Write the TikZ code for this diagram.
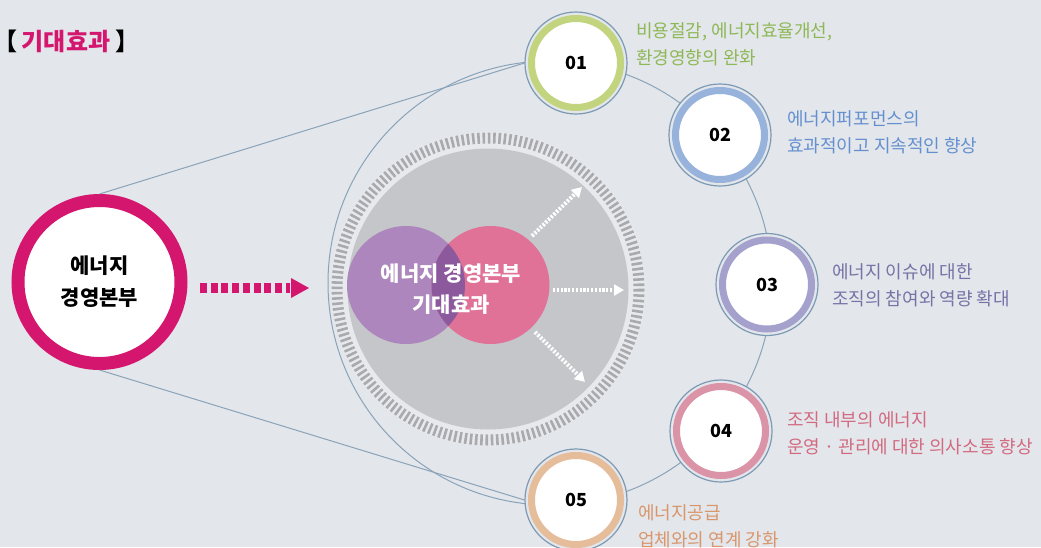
\documentclass[tikz,border=0pt]{standalone}
\usepackage{fontspec}
\setmainfont{Noto Sans CJK KR}
\usetikzlibrary{arrows.meta}
\definecolor{bg}{HTML}{E3E6EB}
\definecolor{arcline}{HTML}{8AA3B8}
\definecolor{outl}{HTML}{7C9AB3}
\definecolor{mag}{HTML}{D4166F}
\definecolor{gdisk}{HTML}{C5C6CA}
\definecolor{tick}{HTML}{A9AAAE}
\definecolor{lring}{HTML}{E8E9EC}
\definecolor{vpur}{HTML}{AC86BC}
\definecolor{vpink}{HTML}{E07197}
\definecolor{vover}{HTML}{8C5A9C}
\definecolor{rg}{HTML}{C3D47F}
\definecolor{rb}{HTML}{97B3DC}
\definecolor{rl}{HTML}{A4A2CD}
\definecolor{rp}{HTML}{DA93A7}
\definecolor{ro}{HTML}{E5BD9B}
\definecolor{tg}{HTML}{8EB856}
\definecolor{tb}{HTML}{6590CF}
\definecolor{tl}{HTML}{7474A6}
\definecolor{tp}{HTML}{D26A80}
\definecolor{to}{HTML}{D9966C}
\tikzset{
  outerc/.style={circle, draw=outl, line width=1.2pt, fill=bg, minimum size=102pt, inner sep=0pt},
  ringc/.style={circle, draw=#1, line width=7pt, fill=white, minimum size=89pt, inner sep=0pt,
     font=\fontsize{18}{20}\selectfont\bfseries},
  desc/.style={anchor=west, align=left, inner sep=0pt, text=#1, font=\fontsize{18}{27}\selectfont},
  conn/.style={draw=arcline, line width=1pt},
  warrow/.style={white, line width=4pt, dash pattern=on 2.2pt off 1.6pt, -{Triangle[length=10pt,width=11pt]}},
  titlef/.style={font=\fontsize{24}{26}\selectfont\bfseries, inner sep=0pt},
}
\begin{document}
\begin{tikzpicture}[x=1pt,y=-1pt]
\fill[bg] (0,0) rectangle (1041,547);
\useasboundingbox (0,0) rectangle (1041,547);

% big arc circle
\coordinate (A) at (550,283);
\draw[conn] (A) circle[radius=222];

% left main circle
\node[circle, draw=mag, line width=13pt, fill=white, minimum size=163pt, inner sep=0pt,
  align=center, font=\fontsize{21}{32}\selectfont\bfseries] (L) at (99.5,282) {에너지\\경영본부};

% numbered circles (outer outline)
\node[outerc] (c1o) at (576,63) {};
\node[outerc] (c2o) at (720,135) {};
\node[outerc] (c3o) at (767,284.5) {};
\node[outerc] (c4o) at (721,431) {};
\node[outerc] (c5o) at (576,500) {};

% straight connectors
\draw[conn] (L.north) -- (c1o.west);
\draw[conn] (L.south) -- (c5o.west);

% gray circle
\coordinate (G) at (488,289);
\fill[lring] (G) circle[radius=157];
\draw[tick, line width=11pt, dash pattern=on 2.6pt off 2.67pt] (G) circle[radius=151];
\fill[gdisk] (G) circle[radius=140.5];

% venn
\fill[vpur] (406,285) circle[radius=59];
\fill[vpink] (490.5,285) circle[radius=59];
\begin{scope}
  \clip (406,285) circle[radius=59];
  \fill[vover] (490.5,285) circle[radius=59];
\end{scope}
\node[text=white, align=center, font=\fontsize{21}{31}\selectfont\bfseries] (V) at (451,289) {에너지 경영본부\\기대효과};

% white arrows
\coordinate (w1a) at (532,236); \coordinate (w1b) at (582,187);
\coordinate (w2a) at (553,290); \coordinate (w2b) at (624,290);
\coordinate (w3a) at (535,332); \coordinate (w3b) at (585,382);
\draw[warrow] (w1a) -- (w1b);
\draw[warrow] (w2a) -- (w2b);
\draw[warrow] (w3a) -- (w3b);

% pink dashed arrow
\coordinate (pa) at (200,288); \coordinate (pb) at (290,288);
\draw[mag, line width=10pt, dash pattern=on 7pt off 3.7pt] (pa) -- (pb);
\fill[mag] (291,278) -- (309,288) -- (291,298) -- cycle;

% numbered rings
\node[ringc=rg] (c1) at (c1o) {01};
\node[ringc=rb] (c2) at (c2o) {02};
\node[ringc=rl] (c3) at (c3o) {03};
\node[ringc=rp] (c4) at (c4o) {04};
\node[ringc=ro] (c5) at (c5o) {05};

% descriptions
\node[desc=tg] (d1) at (636,44) {비용절감, 에너지효율개선,\\환경영향의 완화};
\node[desc=tb] (d2) at (787,132) {에너지퍼포먼스의\\효과적이고 지속적인 향상};
\node[desc=tl] (d3) at (832,285) {에너지 이슈에 대한\\조직의 참여와 역량 확대};
\node[desc=tp] (d4) at (787,433) {조직 내부의 에너지\\운영 · 관리에 대한 의사소통 향상};
\node[desc=to] (d5) at (638,526) {에너지공급\\업체와의 연계 강화};

% title
\node[titlef, anchor=east] (T1) at (18,41) {\makebox[14pt][r]{【}};
\node[titlef, text=mag] (T) at (66,41) {기대효과};
\node[titlef, anchor=west] (T2) at (115,41) {】};
\end{tikzpicture}
\end{document}
